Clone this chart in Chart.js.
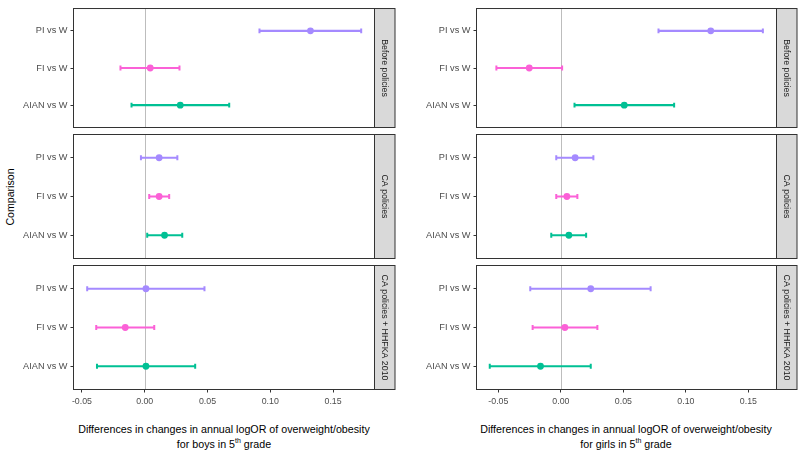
<!DOCTYPE html>
<html>
<head>
<meta charset="utf-8">
<script src="https://cdn.jsdelivr.net/npm/chart.js@4.4.1/dist/chart.umd.min.js"></script>
<style>
  body { margin: 0; background: #fff; }
  #wrap { position: relative; width: 800px; height: 454px; overflow: hidden; font-family: "Liberation Sans", Arial, sans-serif; }
  canvas { position: absolute; left: 0; top: 0; }
  .xtitle { position: absolute; top: 422px; width: 380px; text-align: center; font-size: 10.7px; line-height: 15px; color: #000; }
  .xtitle sup { font-size: 7px; line-height: 0; }
  #ytitle { position: absolute; left: 10px; top: 197px; transform: translate(-50%, -50%) rotate(-90deg); font-size: 10.6px; color: #000; white-space: nowrap; }
</style>
</head>
<body>
<div id="wrap">
  <div id="ytitle">Comparison</div>
  <div class="xtitle" style="left:34px">Differences in changes in annual logOR of overweight/obesity<br>for boys in 5<sup>th</sup> grade</div>
  <div class="xtitle" style="left:436px">Differences in changes in annual logOR of overweight/obesity<br>for girls in 5<sup>th</sup> grade</div>
</div>
<script>
const comparisons = ['PI vs W', 'FI vs W', 'AIAN vs W'];
const periods = ['Before policies', 'CA policies', 'CA policies + HHFKA 2010'];
const colors = ['#A58AFF', '#FB61D7', '#00C094'];
const xTicks = [-0.05, 0.00, 0.05, 0.10, 0.15];

// rows = periods, columns = PI, FI, AIAN
const boysEst  = [[0.132, 0.0044, 0.0283], [0.0115, 0.0115, 0.0158], [0.001, -0.0155, 0.001]];
const boysLow  = [[0.0914, -0.0193, -0.0105], [-0.003, 0.0036, 0.002], [-0.0458, -0.0386, -0.038]];
const boysHigh = [[0.1724, 0.0277, 0.0673], [0.026, 0.0195, 0.0299], [0.0476, 0.0076, 0.0402]];

const girlsEst  = [[0.1199, -0.0253, 0.0507], [0.0114, 0.0048, 0.0064], [0.0239, 0.0032, -0.0163]];
const girlsLow  = [[0.0781, -0.0516, 0.0109], [-0.0037, -0.0037, -0.0077], [-0.0245, -0.0226, -0.0569]];
const girlsHigh = [[0.1616, 0.001, 0.0906], [0.026, 0.0132, 0.0202], [0.0718, 0.0292, 0.0239]];

const W = 800, H = 454;
const rowTop = [3.5, 134.5, 265.5];
const rowH = 124;
const cols = [
  { left: 73.5, right: 374.5, xmin: -0.0567, xmax: 0.183, est: boysEst, low: boysLow, high: boysHigh },
  { left: 476.5, right: 776.5, xmin: -0.0675, xmax: 0.1725, est: girlsEst, low: girlsLow, high: girlsHigh }
];
const yAxisW = 70, xAxisH = 20, stripW = 20.5;
const tickFont = '"Liberation Sans", Arial, sans-serif';

const panelPlugin = {
  id: 'panel',
  beforeDatasetsDraw(chart, args, opts) {
    const { ctx, chartArea: a, scales } = chart;
    const x0 = Math.round(scales.x.getPixelForValue(0)) + 0.5;
    ctx.save();
    ctx.strokeStyle = '#bdbdbd';
    ctx.lineWidth = 1;
    ctx.beginPath();
    ctx.moveTo(x0, a.top);
    ctx.lineTo(x0, a.bottom);
    ctx.stroke();
    ctx.restore();
  },
  afterDraw(chart, args, opts) {
    const { ctx, chartArea: a } = chart;
    ctx.save();
    ctx.strokeStyle = '#333333';
    ctx.lineWidth = 1;
    ctx.strokeRect(a.left, a.top, a.right - a.left, a.bottom - a.top);
    ctx.fillStyle = '#d9d9d9';
    ctx.fillRect(a.right, a.top, stripW, a.bottom - a.top);
    ctx.strokeRect(a.right, a.top, stripW, a.bottom - a.top);
    ctx.translate(a.right + stripW / 2, (a.top + a.bottom) / 2);
    ctx.rotate(Math.PI / 2);
    ctx.fillStyle = '#1a1a1a';
    ctx.font = '8.8px ' + tickFont;
    ctx.textAlign = 'center';
    ctx.textBaseline = 'middle';
    ctx.fillText(opts.label, 0, 0);
    ctx.restore();
  }
};

const wrap = document.getElementById('wrap');

cols.forEach((col, c) => {
  periods.forEach((period, r) => {
    const bottomRow = r === periods.length - 1;
    const canvas = document.createElement('canvas');
    canvas.width = W;
    canvas.height = H;
    wrap.appendChild(canvas);

    const datasets = [];
    comparisons.forEach((name, k) => {
      const yv = comparisons.length - k;
      datasets.push({
        type: 'scatter',
        data: [{ x: col.low[r][k], y: yv }, { x: col.high[r][k], y: yv }],
        showLine: true,
        borderColor: colors[k],
        borderWidth: 2.2,
        pointStyle: 'line',
        rotation: 90,
        pointRadius: 2.4,
        pointBorderWidth: 2,
        pointBorderColor: colors[k]
      });
      datasets.push({
        type: 'scatter',
        data: [{ x: col.est[r][k], y: yv }],
        pointRadius: 3.4,
        pointBackgroundColor: colors[k],
        pointBorderColor: colors[k],
        pointBorderWidth: 0
      });
    });

    const panelBottom = rowTop[r] + rowH;
    new Chart(canvas, {
      type: 'scatter',
      data: { datasets },
      options: {
        responsive: false,
        animation: false,
        devicePixelRatio: 1,
        layout: {
          padding: {
            left: col.left - yAxisW,
            right: W - col.right,
            top: rowTop[r],
            bottom: H - panelBottom - (bottomRow ? xAxisH : 0)
          }
        },
        plugins: {
          legend: { display: false },
          tooltip: { enabled: false },
          panel: { label: period }
        },
        scales: {
          x: {
            type: 'linear',
            min: col.xmin,
            max: col.xmax,
            display: bottomRow,
            afterBuildTicks: s => { s.ticks = xTicks.map(v => ({ value: v })); },
            afterFit: s => { if (bottomRow) s.height = xAxisH; },
            border: { display: false },
            grid: { drawOnChartArea: false, drawTicks: true, tickLength: 3, color: '#333333' },
            ticks: {
              padding: 4,
              color: '#4d4d4d',
              font: { family: tickFont, size: 8.8 },
              maxRotation: 0,
              callback: v => v.toFixed(2)
            }
          },
          y: {
            type: 'linear',
            min: 0.4,
            max: 3.6,
            afterBuildTicks: s => { s.ticks = [1, 2, 3].map(v => ({ value: v })); },
            afterFit: s => { s.width = yAxisW; },
            border: { display: false },
            grid: { drawOnChartArea: false, drawTicks: true, tickLength: 3, color: '#333333' },
            ticks: {
              padding: 3,
              color: '#4d4d4d',
              font: { family: tickFont, size: 9.2 },
              callback: v => comparisons[comparisons.length - v]
            }
          }
        }
      },
      plugins: [panelPlugin]
    });
  });
});
</script>
</body>
</html>
